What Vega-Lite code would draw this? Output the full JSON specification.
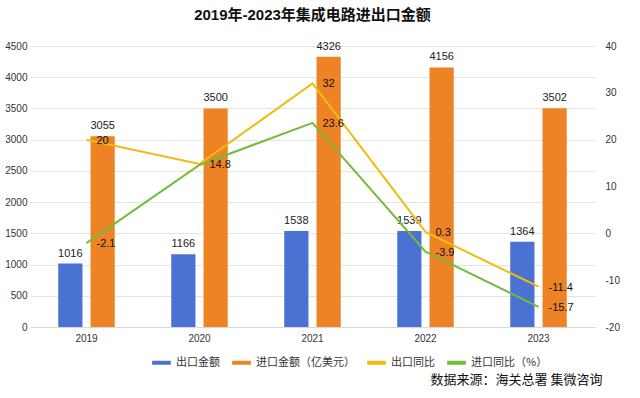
{
  "$schema": "https://vega.github.io/schema/vega-lite/v6.json",
  "autosize": "none",
  "width": 565,
  "height": 281,
  "padding": {"left": 30, "top": 46, "right": 45, "bottom": 71},
  "background": "white",
  "config": {
    "font": "Helvetica, Arial, Liberation Sans, Noto Sans CJK SC",
    "view": {"stroke": null},
    "locale": {"number": {"decimal": ".", "thousands": "", "grouping": [3], "currency": ["$", ""], "minus": "-"}}
  },
  "title": {
    "text": "2019年-2023年集成电路进出口金额",
    "font": "Liberation Sans, Noto Sans CJK SC",
    "fontSize": 15,
    "fontWeight": "bold",
    "color": "#111",
    "anchor": "middle",
    "offset": 18
  },
  "datasets": {
    "bars": [
      {"year": "2019", "series": "出口金额", "value": 1016},
      {"year": "2019", "series": "进口金额（亿美元）", "value": 3055},
      {"year": "2020", "series": "出口金额", "value": 1166},
      {"year": "2020", "series": "进口金额（亿美元）", "value": 3500},
      {"year": "2021", "series": "出口金额", "value": 1538},
      {"year": "2021", "series": "进口金额（亿美元）", "value": 4326},
      {"year": "2022", "series": "出口金额", "value": 1539},
      {"year": "2022", "series": "进口金额（亿美元）", "value": 4156},
      {"year": "2023", "series": "出口金额", "value": 1364},
      {"year": "2023", "series": "进口金额（亿美元）", "value": 3502}
    ],
    "lines": [
      {"year": "2019", "series": "出口同比", "pct": 20, "show": true},
      {"year": "2020", "series": "出口同比", "pct": 14.8, "show": true},
      {"year": "2021", "series": "出口同比", "pct": 32, "show": true},
      {"year": "2022", "series": "出口同比", "pct": 0.3, "show": true},
      {"year": "2023", "series": "出口同比", "pct": -11.4, "show": true},
      {"year": "2019", "series": "进口同比（%）", "pct": -2.1, "show": true},
      {"year": "2020", "series": "进口同比（%）", "pct": 14.6, "show": false},
      {"year": "2021", "series": "进口同比（%）", "pct": 23.6, "show": true},
      {"year": "2022", "series": "进口同比（%）", "pct": -3.9, "show": true},
      {"year": "2023", "series": "进口同比（%）", "pct": -15.7, "show": true}
    ]
  },
  "encoding": {
    "x": {
      "field": "year",
      "type": "ordinal",
      "scale": {"paddingInner": 0.5, "paddingOuter": 0.25},
      "axis": {
        "title": "数据来源：海关总署 集微咨询",
        "titleFont": "Noto Sans CJK SC",
        "titleFontSize": 13,
        "titleFontWeight": "normal",
        "titleColor": "#111",
        "titleAnchor": "end",
        "titleAlign": "right",
        "titleX": 572,
        "titleY": 46,
        "labelAngle": 0,
        "labelFontSize": 10,
        "labelColor": "#333",
        "labelPadding": 6,
        "ticks": false,
        "domain": true,
        "domainColor": "#d8d8d8"
      }
    }
  },
  "layer": [
    {
      "data": {"name": "bars"},
      "mark": {"type": "bar"},
      "encoding": {
        "xOffset": {"field": "series", "type": "nominal", "scale": {"paddingInner": 0.25}, "sort": ["出口金额", "进口金额（亿美元）"]},
        "y": {
          "field": "value",
          "type": "quantitative",
          "scale": {"domain": [0, 4500], "nice": false},
          "axis": {
            "title": null,
            "values": [0, 500, 1000, 1500, 2000, 2500, 3000, 3500, 4000, 4500],
            "format": "d",
            "labelOverlap": false,
            "labelFontSize": 10,
            "labelColor": "#333",
            "ticks": false,
            "domain": false,
            "labelPadding": 3,
            "gridColor": "#e4e4e4"
          }
        },
        "color": {
          "field": "series",
          "type": "nominal",
          "scale": {
            "domain": ["出口金额", "进口金额（亿美元）", "出口同比", "进口同比（%）"],
            "range": ["#4a72d2", "#ee8326", "#f3bb0c", "#74bb3a"]
          },
          "legend": {
            "title": null,
            "orient": "none",
            "direction": "horizontal",
            "legendX": 120,
            "legendY": 305,
            "symbolType": "stroke",
            "symbolStrokeWidth": 4,
            "symbolSize": 350,
            "labelFont": "Noto Sans CJK SC",
            "labelFontSize": 11,
            "labelColor": "#333",
            "columnPadding": 4,
            "labelOffset": 3
          }
        }
      }
    },
    {
      "data": {"name": "bars"},
      "mark": {"type": "text", "baseline": "bottom", "dy": -5, "fontSize": 11, "color": "#222"},
      "encoding": {
        "xOffset": {"field": "series", "type": "nominal", "scale": {"paddingInner": 0.25}, "sort": ["出口金额", "进口金额（亿美元）"]},
        "y": {"field": "value", "type": "quantitative", "scale": {"domain": [0, 4500], "nice": false}, "axis": null},
        "text": {"field": "value", "type": "quantitative", "format": "d"}
      }
    },
    {
      "data": {"name": "lines"},
      "mark": {"type": "line", "strokeWidth": 2},
      "encoding": {
        "y": {
          "field": "pct",
          "type": "quantitative",
          "scale": {"domain": [-20, 40], "nice": false},
          "axis": {
            "orient": "right",
            "title": null,
            "values": [-20, -10, 0, 10, 20, 30, 40],
            "format": "d",
            "labelOverlap": false,
            "grid": false,
            "ticks": false,
            "domain": false,
            "labelFontSize": 10,
            "labelColor": "#333",
            "labelPadding": 10
          }
        },
        "color": {"field": "series", "type": "nominal"}
      }
    },
    {
      "data": {"name": "lines"},
      "transform": [{"filter": "datum.show"}],
      "mark": {"type": "text", "align": "left", "baseline": "middle", "dx": 10, "dy": 1, "fontSize": 11, "color": "#111"},
      "encoding": {
        "y": {"field": "pct", "type": "quantitative", "scale": {"domain": [-20, 40], "nice": false}, "axis": null},
        "text": {"field": "pct", "type": "quantitative", "format": ""}
      }
    }
  ],
  "resolve": {"scale": {"y": "independent"}}
}
